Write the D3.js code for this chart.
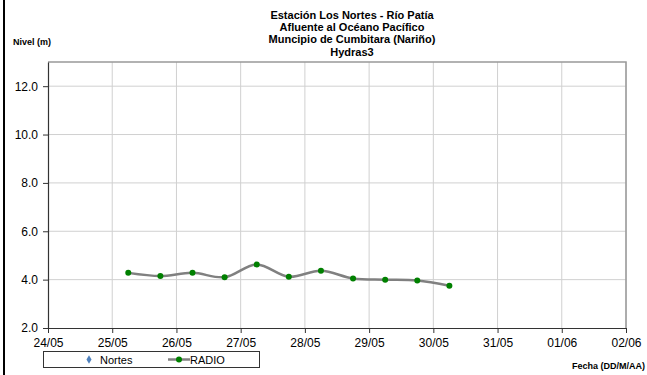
<!DOCTYPE html>
<html><head><meta charset="utf-8">
<script src="https://cdn.jsdelivr.net/npm/d3@7"></script>
<style>body{margin:0;background:#fff}svg{display:block;font-family:"Liberation Sans",Arial,sans-serif}</style>
</head><body>
<script>
const titleLines = ["Estación Los Nortes  - Río Patía","Afluente al Océano Pacífico","Muncipio de Cumbitara (Nariño)","Hydras3"];
const times = ["2024-05-25T06:00","2024-05-25T18:00","2024-05-26T06:00","2024-05-26T18:00","2024-05-27T06:00","2024-05-27T18:00","2024-05-28T06:00","2024-05-28T18:00","2024-05-29T06:00","2024-05-29T18:00","2024-05-30T06:00"];
const radio = [4.28,4.15,4.28,4.10,4.63,4.12,4.37,4.05,4.00,3.96,3.75];
const yTicks = [2,4,6,8,10,12];
const xStart = "2024-05-24T00:00", xEnd = "2024-06-02T00:00";
const legendNames = ["Nortes","RADIO"];

const W=647,H=375;
const m={l:48,r:21,t:62,b:47};
const svg=d3.select("body").append("svg").attr("width",W).attr("height",H);
const x=d3.scaleTime().domain([new Date(xStart),new Date(xEnd)]).range([m.l,W-m.r]);
const y=d3.scaleLinear().domain([2,13]).range([H-m.b,m.t]);
const days=d3.timeDay.range(new Date(xStart),d3.timeDay.offset(new Date(xEnd),1));

// left border
svg.append("rect").attr("x",3).attr("y",0).attr("width",2).attr("height",H).attr("fill","#000");

// grid
svg.append("g").selectAll("line").data(days.slice(1)).join("line")
 .attr("x1",d=>x(d)).attr("x2",d=>x(d)).attr("y1",m.t).attr("y2",H-m.b)
 .attr("stroke","#d0d0d0").attr("stroke-width",1);
svg.append("g").selectAll("line").data(yTicks.slice(1)).join("line")
 .attr("x1",m.l).attr("x2",W-m.r).attr("y1",d=>y(d)).attr("y2",d=>y(d))
 .attr("stroke","#d0d0d0").attr("stroke-width",1);
// frame top/right
svg.append("path").attr("d",`M${m.l},${m.t}H${W-m.r}V${H-m.b}`).attr("fill","none").attr("stroke","#999").attr("stroke-width",1.5);

// axes
const fmt=d3.timeFormat("%d/%m");
const xa=svg.append("g").attr("transform",`translate(0,${H-m.b})`)
 .call(d3.axisBottom(x).tickValues(days).tickFormat(fmt).tickSize(5).tickSizeOuter(0));
const ya=svg.append("g").attr("transform",`translate(${m.l},0)`)
 .call(d3.axisLeft(y).tickValues(yTicks).tickFormat(d3.format(".1f")).tickSize(5).tickSizeOuter(0));
[xa,ya].forEach(a=>{a.select(".domain").attr("stroke","#333").attr("stroke-width",1.2);
 a.selectAll(".tick line").attr("stroke","#333");
 a.selectAll("text").attr("font-size",12).attr("fill","#000").attr("font-family","Liberation Sans, Arial, sans-serif");});
xa.selectAll("text").attr("dy","0.95em");
ya.selectAll("text").attr("dx","-2");

// line
const data=times.map((t,i)=>({t:new Date(t),v:radio[i]}));
svg.append("path").datum(data).attr("fill","none").attr("stroke","#808080").attr("stroke-width",2.5)
 .attr("d",d3.line().x(d=>x(d.t)).y(d=>y(d.v)).curve(d3.curveCatmullRom.alpha(0.5)));
svg.append("g").selectAll("circle").data(data).join("circle")
 .attr("cx",d=>x(d.t)).attr("cy",d=>y(d.v)).attr("r",3).attr("fill","#008000");

// title
svg.append("g").selectAll("text").data(titleLines).join("text")
 .attr("x",352).attr("y",(d,i)=>19+i*12.2).attr("text-anchor","middle")
 .attr("font-size",11).attr("font-weight","bold").text(d=>d);
svg.append("text").attr("x",13).attr("y",45).attr("font-size",9).attr("font-weight","bold").text("Nivel (m)");
svg.append("text").attr("x",645).attr("y",369).attr("text-anchor","end").attr("font-size",9).attr("font-weight","bold").text("Fecha (DD/M/AA)");

// legend
const lg=svg.append("g");
lg.append("rect").attr("x",43.5).attr("y",351.5).attr("width",216).attr("height",16).attr("fill","#fff").attr("stroke","#333");
lg.append("path").attr("d",d3.symbol(d3.symbolDiamond,22)()).attr("transform","translate(89,359.5)").attr("fill","#4f81bd");
lg.append("text").attr("x",100).attr("y",363.5).attr("font-size",11).text(legendNames[0]);
lg.append("line").attr("x1",168).attr("x2",190).attr("y1",359.5).attr("y2",359.5).attr("stroke","#808080").attr("stroke-width",2.5);
lg.append("circle").attr("cx",179).attr("cy",359.5).attr("r",3).attr("fill","#008000");
lg.append("text").attr("x",190).attr("y",363.5).attr("font-size",11).text(legendNames[1]);
</script>
</body></html>
